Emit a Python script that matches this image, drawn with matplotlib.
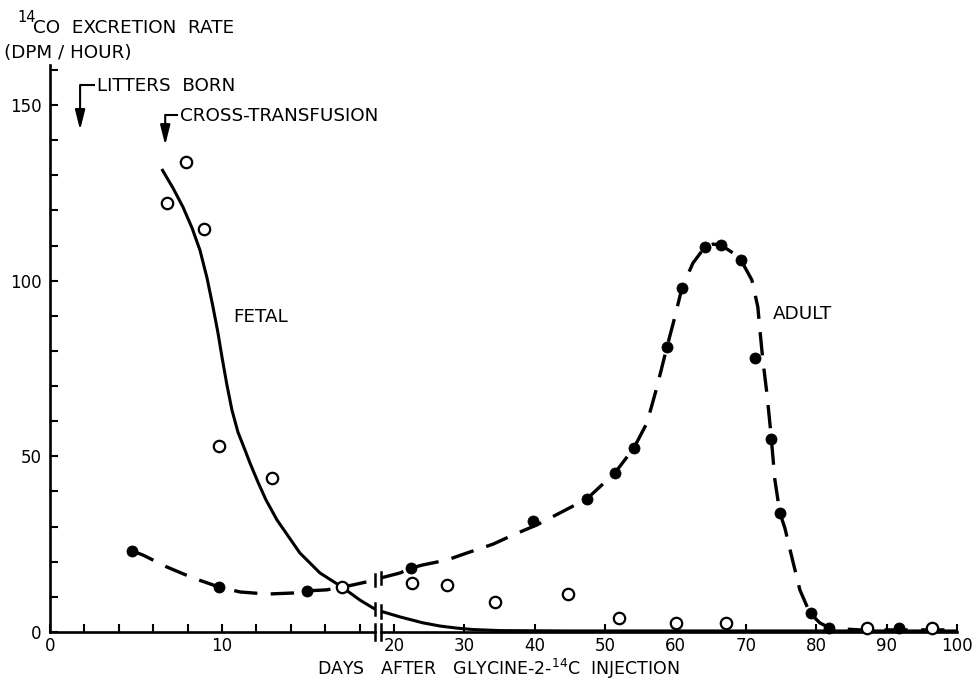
import matplotlib
matplotlib.use("Agg")
import matplotlib.pyplot as plt
from matplotlib.ticker import MultipleLocator, FixedLocator

plt.rcParams['font.family'] = ['DejaVu Sans']
plt.rcParams['mathtext.fontset'] = 'dejavusans'

# ---------------- data ----------------
# open circles: fetal cells
fetal_days_early = [6.80, 7.91, 8.95, 9.83, 12.91, 16.98]
fetal_rate_early = [122.1, 133.8, 114.7, 52.9, 43.8, 12.8]
fetal_days_late = [22.56, 27.53, 34.35, 44.7, 51.96, 60.06, 67.16, 87.19, 96.42]
fetal_rate_late = [13.9, 13.4, 8.5, 10.8, 4.0, 2.6, 2.6, 1.0, 1.0]

# filled circles: adult cells
adult_days_early = [4.77, 9.83, 14.94]
adult_rate_early = [23.1, 12.8, 11.7]
adult_days_late = [22.41, 39.74, 47.41, 51.39, 54.09, 58.78, 60.91, 64.18, 66.45,
                   69.29, 71.28, 73.55, 74.83, 79.23, 81.79, 91.73]
adult_rate_late = [18.2, 31.6, 37.9, 45.3, 52.4, 81.1, 97.9, 109.6, 110.2,
                   105.9, 78.0, 54.9, 33.9, 5.4, 1.0, 1.0]

# hand-drawn fitted curves (traced points)
fetal_curve_days_early = [6.5, 7.15, 7.73, 8.26, 8.72, 9.13, 9.48, 9.77, 10.0, 10.29,
                          10.58, 10.93, 11.34, 11.63, 12.09, 12.56, 13.2, 14.53, 15.7,
                          16.98, 18.02, 18.9]
fetal_curve_rate_early = [131.8, 126.4, 121.0, 115.0, 108.7, 100.8, 92.5, 85.1, 78.3, 70.3,
                          63.2, 56.9, 51.8, 48.1, 42.7, 37.6, 31.9, 22.5, 16.8,
                          12.8, 9.1, 6.5]
fetal_curve_days_late = [18.15, 20.85, 24.12, 26.53, 28.95, 31.22, 35.06, 45.0, 100.0]
fetal_curve_rate_late = [5.9, 4.3, 2.6, 1.7, 1.1, 0.7, 0.4, 0.3, 0.3]

adult_curve_days_early = [4.77, 5.41, 6.80, 8.31, 9.83, 11.05, 12.62, 14.13, 14.94,
                          16.10, 17.62, 18.9]
adult_curve_rate_early = [23.1, 21.9, 18.5, 15.4, 12.8, 11.4, 10.8, 11.1, 11.7,
                          12.0, 13.4, 14.8]
adult_curve_days_late = [18.15, 20.85, 22.41, 24.12, 27.53, 30.37, 34.06, 36.90, 40.31,
                         43.58, 47.41, 51.39, 54.09, 55.94, 57.36, 58.78, 59.91, 60.91,
                         62.47, 64.18, 65.31, 66.45, 68.15, 69.29, 70.85, 71.70, 71.99,
                         72.41, 72.98, 73.55, 74.12, 74.83, 75.54, 76.53, 77.67, 79.09,
                         80.51, 81.93, 86.19, 100.0]
adult_curve_rate_late = [15.4, 16.8, 18.2, 19.1, 20.5, 22.5, 25.0, 27.6, 30.5,
                         33.9, 37.9, 45.3, 52.4, 59.5, 69.7, 81.1, 89.7, 97.9,
                         105.0, 109.6, 110.4, 110.2, 107.9, 105.9, 100.2, 92.5, 86.0,
                         77.4, 68.0, 56.6, 43.3, 33.9, 29.6, 21.3, 12.0, 5.4,
                         2.6, 1.1, 0.6, 0.6]

litters_born_day = 1.75
cross_transfusion_day = 6.7

# ---------------- figure ----------------
W, H = 973, 680
FS = 13.2
TFS = 12.0
fig = plt.figure(figsize=(W / 100, H / 100), dpi=100)
fig.patch.set_facecolor('white')

y0_px, ytop_px = 632, 65
bottom = 1 - y0_px / H
height = (y0_px - ytop_px) / H
axL = fig.add_axes([50 / W, bottom, 325 / W, height])
axR = fig.add_axes([381 / W, bottom, 576 / W, height])

ymax = 161.4
axL.set_xlim(0, 18.9)
axR.set_xlim(18.15, 100)
for ax in (axL, axR):
    ax.set_ylim(0, ymax)
    ax.set_facecolor('none')
    for s in ('top', 'right'):
        ax.spines[s].set_visible(False)
    ax.spines['bottom'].set_linewidth(1.9)
    ax.spines['left'].set_linewidth(1.9)
    ax.tick_params(axis='both', which='both', direction='in', length=6, width=1.5,
                   labelsize=TFS, colors='black')
    ax.tick_params(axis='x', pad=3.5)
    ax.tick_params(axis='y', pad=6)

axR.spines['left'].set_visible(False)
axR.tick_params(axis='y', which='both', left=False, labelleft=False)

axL.yaxis.set_major_locator(FixedLocator([0, 50, 100, 150]))
axL.yaxis.set_minor_locator(MultipleLocator(10))
axL.xaxis.set_major_locator(FixedLocator([0, 10]))
axL.xaxis.set_minor_locator(MultipleLocator(2))
axR.xaxis.set_major_locator(FixedLocator([20, 30, 40, 50, 60, 70, 80, 90, 100]))

lw_curve = 2.2
dash = (0, (7.0, 4.0))
for ax, fx, fy, ax_, ay in ((axL, fetal_curve_days_early, fetal_curve_rate_early,
                             adult_curve_days_early, adult_curve_rate_early),
                            (axR, fetal_curve_days_late, fetal_curve_rate_late,
                             adult_curve_days_late, adult_curve_rate_late)):
    ax.plot(fx, fy, color='black', lw=lw_curve, solid_capstyle='butt', zorder=2,
            clip_on=False)
    ax.plot(ax_, ay, color='black', lw=2.4, linestyle=dash, dash_capstyle='butt',
            zorder=2, clip_on=False)

# break marks
def bar(ax, x, y, h):
    ax.plot([x, x], [y - h, y + h], color='black', lw=1.8, clip_on=False, zorder=4)

bar(axL, axL.get_xlim()[1], 0, 2.3)
bar(axR, axR.get_xlim()[0], 0, 2.3)
bar(axL, fetal_curve_days_early[-1], fetal_curve_rate_early[-1], 1.8)
bar(axR, fetal_curve_days_late[0], fetal_curve_rate_late[0], 1.8)
bar(axL, adult_curve_days_early[-1], adult_curve_rate_early[-1], 1.8)
bar(axR, adult_curve_days_late[0], adult_curve_rate_late[0], 1.8)

# markers
for ax, dx, dy in ((axL, fetal_days_early, fetal_rate_early),
                   (axR, fetal_days_late, fetal_rate_late)):
    ax.plot(dx, dy, linestyle='none', marker='o', ms=8.2, mfc='white', mec='black',
            mew=1.6, zorder=5, clip_on=False)
for ax, dx, dy in ((axL, adult_days_early, adult_rate_early),
                   (axR, adult_days_late, adult_rate_late)):
    ax.plot(dx, dy, linestyle='none', marker='o', ms=8.0, mfc='black', mec='black',
            mew=0.5, zorder=5, clip_on=False)

# curve labels
axL.text(10.64, 89.7, 'FETAL', fontsize=FS, ha='left', va='center')
axR.text(73.8, 90.5, 'ADULT', fontsize=FS, ha='left', va='center')

# event arrows
def event(ax, x, ytop, ytip, xstub, label):
    ax.plot([x, xstub], [ytop, ytop], color='black', lw=1.5, clip_on=False,
            solid_capstyle='butt')
    ax.annotate('', xy=(x, ytip), xytext=(x, ytop),
                arrowprops=dict(arrowstyle='-|>,head_length=1.2,head_width=0.3',
                                mutation_scale=10, lw=1.5, color='black',
                                shrinkA=0, shrinkB=0),
                annotation_clip=False)
    ax.text(xstub + 0.1, ytop - 0.3, label, fontsize=FS, ha='left', va='center')

event(axL, litters_born_day, 155.7, 142.9, litters_born_day + 0.87, 'LITTERS  BORN')
event(axL, cross_transfusion_day, 147.2, 138.6, cross_transfusion_day + 0.76,
      'CROSS-TRANSFUSION')

# axis titles
fig.text(17 / W, 1 - 17 / H, '14', fontsize=10.5, ha='left', va='center')
fig.text(33 / W, 1 - 28 / H, 'CO  EXCRETION  RATE', fontsize=FS,
         ha='left', va='center')
fig.text(4 / W, 1 - 53 / H, '(DPM / HOUR)', fontsize=FS, ha='left', va='center')
fig.text(498 / W, 1 - 668.5 / H, r'DAYS   AFTER   GLYCINE-2-$^{14}$C  INJECTION',
         fontsize=12.5, ha='center', va='center')

fig.savefig('out.png', dpi=100, facecolor='white')
